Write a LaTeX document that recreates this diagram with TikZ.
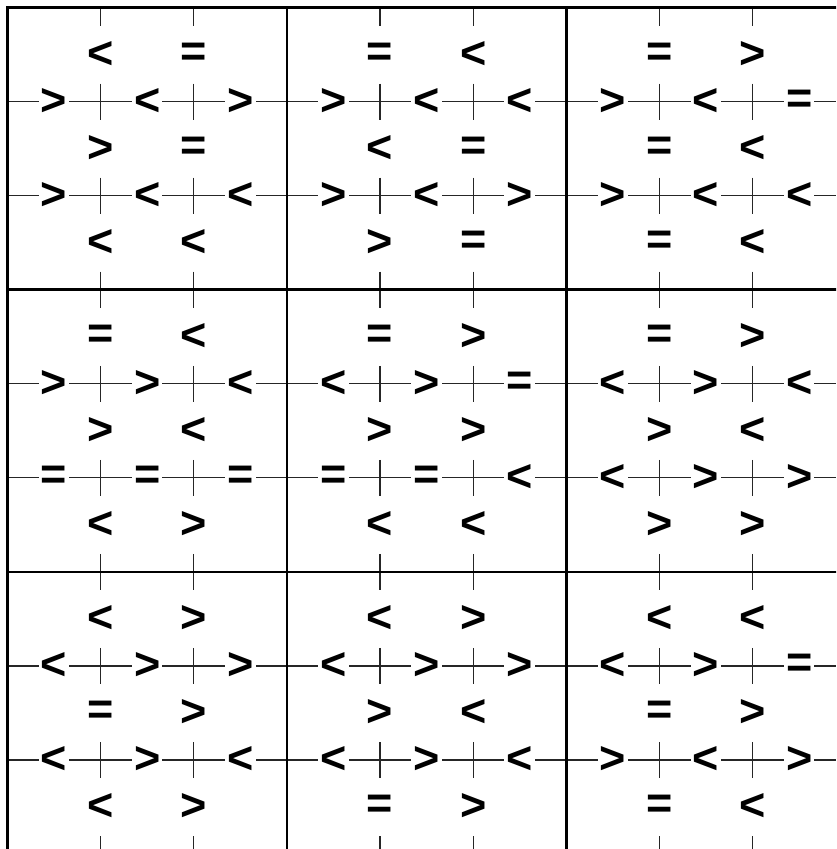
\documentclass[tikz,border=0pt]{standalone}
\usepackage{fontspec}
\setmainfont{Liberation Sans}
\usetikzlibrary{calc}
\newcommand\relL{<}
\newcommand\relG{>}
\newcommand\relE{=}

\begin{document}
\begin{tikzpicture}[
  x=0.025cm,y=-0.025cm,
  frame/.style={line width=1.9pt,black,line cap=rect},
  guide/.style={line width=0.85pt,black!85},
  rel/.style={font=\fontsize{32}{32}\selectfont\bfseries,inner sep=1.5pt,fill=white}
]
  \useasboundingbox (0,0) rectangle (836,849);
  \clip (0,0) rectangle (836,849);
  \def\pw{279.4}
  \def\ph{282.2}
  % rows of the panels
  \foreach \r in {0,1,2}
    \foreach \k in {1,2}
      \draw[guide] (7.5,{7.5+\r*\ph+\k*\ph/3}) -- (836,{7.5+\r*\ph+\k*\ph/3});
  % short marks on the columns
  \foreach \c in {0,1,2}
    \foreach \k in {1,2}
      \foreach \m in {0,...,9}
        \draw[guide] ({7.5+\c*\pw+\k*\pw/3},{max(7.5,7.5+\m*\ph/3-18)})
          -- ({7.5+\c*\pw+\k*\pw/3},{7.5+\m*\ph/3+18});
  % panel frames
  \foreach \c in {0,...,3}
    \draw[frame] ({7.5+\c*\pw},7.5) -- ({7.5+\c*\pw},849);
  \foreach \r in {0,...,3}
    \draw[frame] (7.5,{7.5+\r*\ph}) -- (836,{7.5+\r*\ph});
  % signs, read row by row in each panel
  \foreach \c/\r/\syms in {
      0/0/{L,E,G,L,G,G,E,G,L,L,L,L},
      1/0/{E,L,G,L,L,L,E,G,L,G,G,E},
      2/0/{E,G,G,L,E,E,L,G,L,L,E,L},
      0/1/{E,L,G,G,L,G,L,E,E,E,L,G},
      1/1/{E,G,L,G,E,G,G,E,E,L,L,L},
      2/1/{E,G,L,G,L,G,L,L,G,G,G,G},
      0/2/{L,G,L,G,G,E,G,L,G,L,L,G},
      1/2/{L,G,L,G,G,G,L,L,G,L,E,G},
      2/2/{L,L,L,G,E,E,G,G,L,G,E,L}}{
    \foreach \s [count=\n from 0] in \syms {
      \pgfmathtruncatemacro\px{{2,4,1,3,5,2,4,1,3,5,2,4}[\n]}
      \pgfmathtruncatemacro\py{{1,1,2,2,2,3,3,4,4,4,5,5}[\n]}
      \node[rel] (sym-\c-\r-\n) at ({7.5+\c*\pw+\px*\pw/6},{7.5+\r*\ph+\py*\ph/6})
        {\csname rel\s\endcsname};
    }
  }
\end{tikzpicture}
\end{document}
